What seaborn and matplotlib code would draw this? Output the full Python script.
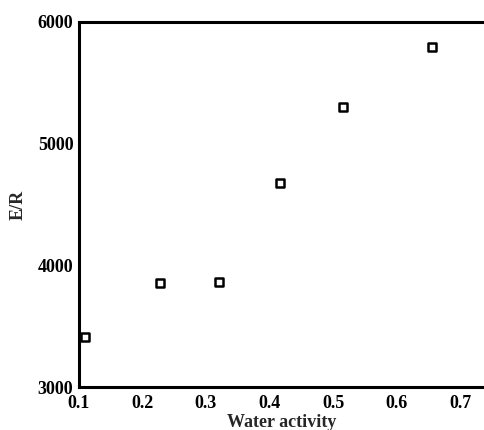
import matplotlib.pyplot as plt
import pandas as pd
import seaborn as sns

# Data
water_activity = [0.109, 0.228, 0.320, 0.417, 0.516, 0.656]
e_over_r = [3410, 3856, 3866, 4678, 5305, 5798]
x_ticks = [0.1, 0.2, 0.3, 0.4, 0.5, 0.6, 0.7]
y_ticks = [3000, 4000, 5000, 6000]

df = pd.DataFrame({"aw": water_activity, "er": e_over_r})

sns.set_style("white")
plt.rcParams["font.family"] = ["Liberation Serif", "DejaVu Serif"]
plt.rcParams["font.weight"] = "bold"

fig = plt.figure(figsize=(4.84, 4.30), dpi=100)
ax = fig.add_axes([0.163, 0.10, 0.837, 0.849])

sns.scatterplot(data=df, x="aw", y="er", marker="s", s=40,
                facecolor="white", edgecolor="black", linewidth=1.8, ax=ax)

ax.set_xlim(0.1, 0.7375)
ax.set_ylim(3000, 6000)
ax.set_xticks(x_ticks)
ax.set_yticks(y_ticks)
ax.set_xticklabels([str(t) for t in x_ticks], fontsize=13, fontweight="bold")
ax.set_yticklabels([str(t) for t in y_ticks], fontsize=13, fontweight="bold")
ax.tick_params(axis="x", direction="in", length=7, width=1.5, pad=6, colors="black")
ax.tick_params(axis="y", direction="in", length=7, width=1.5, pad=4, colors="black")
ax.set_xlabel("Water activity", fontsize=13, fontweight="bold", labelpad=1)
ax.set_ylabel("E/R", fontsize=13, fontweight="bold", labelpad=8)

for side in ["left", "bottom", "top"]:
    ax.spines[side].set_linewidth(2.2)
    ax.spines[side].set_color("black")
ax.spines["right"].set_visible(False)

fig.savefig("out.png", dpi=100)
